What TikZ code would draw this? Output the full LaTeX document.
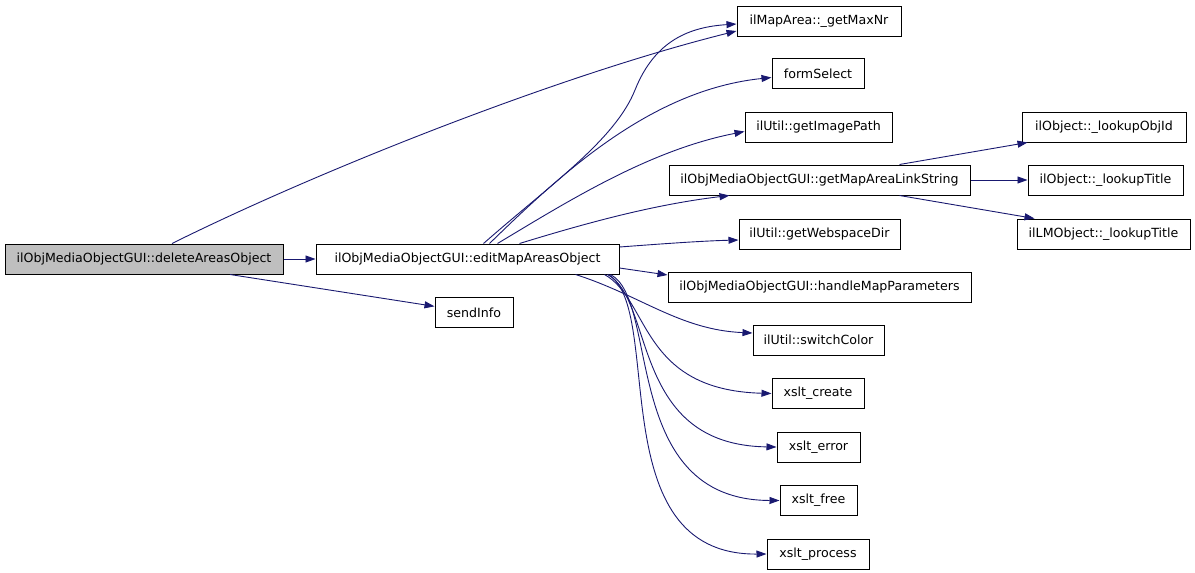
\documentclass[tikz,border=0pt]{standalone}
\usepackage{fontspec}
\setmainfont{DejaVu Sans}
\usetikzlibrary{arrows.meta,positioning}
\definecolor{navy}{HTML}{191970}
\definecolor{selgray}{HTML}{BFBFBF}

\begin{document}
\begin{tikzpicture}[x = 1pt, y = -1pt,
  fn/.style = {draw, line width=1pt, inner sep=0pt, minimum height=30pt,
               font=\fontsize{12.6}{14}\selectfont},
  call/.style = {draw=navy, line width=0.9pt, -{Triangle[length=10pt, width=7pt, fill=navy]}}]
\useasboundingbox (0,0) rectangle (1195,573);

\node[fn, fill=selgray, minimum width=278pt] (del) at (144, 259) {ilObjMediaObjectGUI::deleteAreasObject};
\node[fn, minimum width=303pt] (edit) at (467.5, 259) {ilObjMediaObjectGUI::editMapAreasObject};
\node[fn, minimum width=78pt] (send) at (474, 312.5) {sendInfo};

\node[fn, minimum width=164pt] (maxnr) at (819, 21) {ilMapArea::\_getMaxNr};
\node[fn, minimum width=92pt] (form) at (818, 73.5) {formSelect};
\node[fn, minimum width=147pt] (imgpath) at (818.5, 127.5) {ilUtil::getImagePath};
\node[fn, minimum width=301pt] (linkstr) at (819.5, 180) {ilObjMediaObjectGUI::getMapAreaLinkString};
\node[fn, minimum width=161pt] (webdir) at (819.5, 234) {ilUtil::getWebspaceDir};
\node[fn, minimum width=303pt] (handle) at (819.5, 287) {ilObjMediaObjectGUI::handleMapParameters};
\node[fn, minimum width=131pt] (switch) at (818.5, 340) {ilUtil::switchColor};
\node[fn, minimum width=92pt] (create) at (818, 393.5) {xslt\_create};
\node[fn, minimum width=83pt] (error) at (818.5, 447) {xslt\_error};
\node[fn, minimum width=77pt] (free) at (818.5, 500.5) {xslt\_free};
\node[fn, minimum width=102pt] (process) at (818, 554) {xslt\_process};

\node[fn, minimum width=164pt] (objid) at (1104, 127) {ilObject::\_lookupObjId};
\node[fn, minimum width=155pt] (title) at (1105.5, 180) {ilObject::\_lookupTitle};
\node[fn, minimum width=173pt] (lmtitle) at (1103.5, 234) {ilLMObject::\_lookupTitle};

% deleteAreasObject
\draw[call] ([xshift=28pt]del.north) .. controls (320, 170) and (560, 75) .. ([yshift=-10pt]maxnr.west);
\draw[call] (del) -- (edit);
\draw[call] ([xshift=86pt]del.south) -- (send);

% editMapAreasObject
\draw[call] ([xshift=16pt]edit.north) .. controls (550, 185) and (615, 140) .. (635, 90)
            .. controls (655, 40) and (690, 27) .. ([yshift=-3pt]maxnr.west);
\draw[call] ([xshift=22pt]edit.north) .. controls (560, 175) and (650, 90) .. ([yshift=-4pt]form.west);
\draw[call] ([xshift=30pt]edit.north) .. controls (570, 200) and (650, 150) .. ([yshift=-4pt]imgpath.west);
\draw[call] ([xshift=52pt]edit.north) .. controls (580, 225) and (650, 205) .. ([xshift=-90pt]linkstr.south);
\draw[call] ([yshift=12pt]edit.east) .. controls (660, 244) and (700, 241) .. ([yshift=-6pt]webdir.west);
\draw[call] ([yshift=-9pt]edit.east) -- ([yshift=12pt]handle.west);
\draw[call] ([xshift=108pt]edit.south) .. controls (640, 295) and (680, 330) .. ([yshift=7pt]switch.west);
\draw[call] ([xshift=137pt]edit.south) .. controls (650, 300) and (640, 390) .. (create.west);
\draw[call] ([xshift=140pt]edit.south) .. controls (655, 300) and (630, 445) .. (error.west);
\draw[call] ([xshift=143pt]edit.south) .. controls (660, 300) and (620, 500) .. (free.west);
\draw[call] ([xshift=141pt]edit.south) .. controls (665, 310) and (600, 555) .. (process.west);

% getMapAreaLinkString
\draw[call] ([xshift=80pt]linkstr.north) -- ([xshift=6pt]objid.south west);
\draw[call] (linkstr) -- (title);
\draw[call] ([xshift=80pt]linkstr.south) -- ([xshift=18pt]lmtitle.north west);

\end{tikzpicture}
\end{document}
